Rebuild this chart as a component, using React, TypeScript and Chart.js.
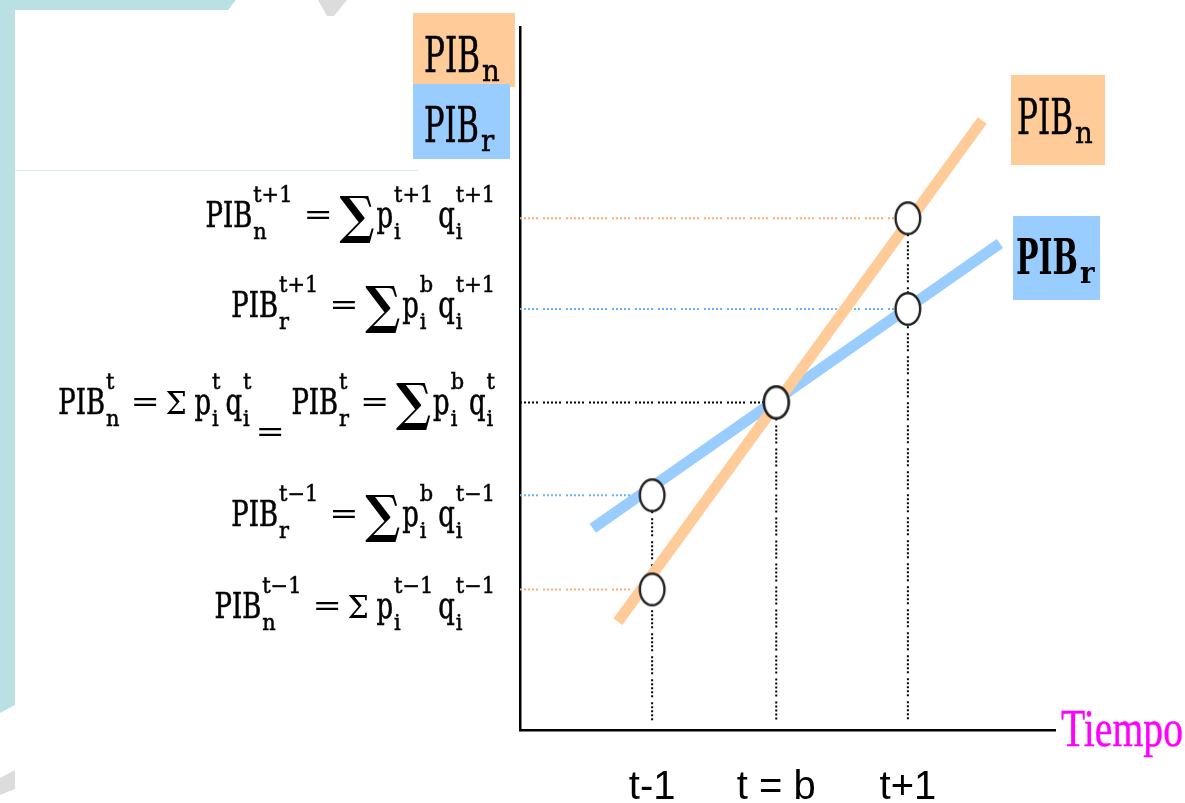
import React, { useEffect, useRef } from 'react';
import { Chart, registerables } from 'chart.js';

Chart.register(...registerables);

// ---------- data ----------
const periods = ['t-1', 't = b', 't+1'];
const periodX = [2.47, 4.79, 7.25];
const nominalGDP = [2.0, 4.66, 7.28];
const realGDP = [3.34, 4.66, 5.99];
const nominalLineX = [1.83, 8.64];
const nominalLineY = [1.54, 8.67];
const realLineX = [1.36, 8.97];
const realLineY = [2.87, 6.92];
const guideBottom = 0.12;
const axisTitle = 'Tiempo';
const seriesNames = ['PIB', 'PIB'];
const seriesSubs = ['n', 'r'];

type Tok = { s: string; sub?: string; sup?: string };
const formulaRows: Tok[][] = [
  [{ s: 'PIB', sub: 'n', sup: 't+1' }, { s: '=' }, { s: '∑' }, { s: 'p', sub: 'i', sup: 't+1' }, { s: 'q', sub: 'i', sup: 't+1' }],
  [{ s: 'PIB', sub: 'r', sup: 't+1' }, { s: '=' }, { s: '∑' }, { s: 'p', sub: 'i', sup: 'b' }, { s: 'q', sub: 'i', sup: 't+1' }],
  [
    { s: 'PIB', sub: 'n', sup: 't' }, { s: '=' }, { s: 'Σ' }, { s: 'p', sub: 'i', sup: 't' }, { s: 'q', sub: 'i', sup: 't' },
    { s: '=low' }, { s: 'PIB', sub: 'r', sup: 't' }, { s: '=' }, { s: '∑' }, { s: 'p', sub: 'i', sup: 'b' }, { s: 'q', sub: 'i', sup: 't' },
  ],
  [{ s: 'PIB', sub: 'r', sup: 't−1' }, { s: '=' }, { s: '∑' }, { s: 'p', sub: 'i', sup: 'b' }, { s: 'q', sub: 'i', sup: 't−1' }],
  [{ s: 'PIB', sub: 'n', sup: 't−1' }, { s: '=' }, { s: 'Σ' }, { s: 'p', sub: 'i', sup: 't−1' }, { s: 'q', sub: 'i', sup: 't−1' }],
];
// which value each formula row belongs to
const formulaValues = [nominalGDP[2], realGDP[2], nominalGDP[1], realGDP[0], nominalGDP[0]];

// ---------- styles ----------
const ORANGE = '#FFCC99';
const BLUE = '#99CCFF';
const ORANGE_DOT = '#FFAA70';
const BLUE_DOT = '#66B2FF';
const TEAL = '#BBE0E3';
const GRAY = '#DCDCDC';
const DOTS = [2, 2, 2, 2, 2, 2, 2, 2, 2, 5];
const BASE_FONT = '35px "DejaVu Serif", "Liberation Serif", serif';
const BASE_SX = 0.74;
const SCRIPT_FONT = '22px "DejaVu Serif", "Liberation Serif", serif';
const SCRIPT_SX = 0.95;
const ROW_BASELINE_OFFSET = [9, 8, 12, 31, 29];

function drawScaled(ctx: CanvasRenderingContext2D, s: string, x: number, y: number, font: string, sx: number, color = '#000', stroke = 0) {
  ctx.save();
  ctx.font = font;
  ctx.fillStyle = color;
  ctx.textAlign = 'left';
  ctx.textBaseline = 'alphabetic';
  ctx.translate(x, y);
  ctx.scale(sx, 1);
  ctx.fillText(s, 0, 0);
  if (stroke > 0) {
    ctx.strokeStyle = color;
    ctx.lineWidth = stroke;
    ctx.strokeText(s, 0, 0);
  }
  ctx.restore();
}

function drawWidth(ctx: CanvasRenderingContext2D, s: string, x: number, y: number, font: string, w: number, color = '#000', stroke = 0) {
  ctx.save();
  ctx.font = font;
  const mw = ctx.measureText(s).width;
  ctx.restore();
  drawScaled(ctx, s, x, y, font, w / mw, color, stroke);
}

function drawFit(ctx: CanvasRenderingContext2D, s: string, font: string, x: number, top: number, w: number, h: number) {
  ctx.save();
  ctx.font = font;
  ctx.textAlign = 'left';
  ctx.textBaseline = 'alphabetic';
  const m = ctx.measureText(s);
  const gw = m.actualBoundingBoxLeft + m.actualBoundingBoxRight;
  const gh = m.actualBoundingBoxAscent + m.actualBoundingBoxDescent;
  ctx.translate(x, top);
  ctx.scale(w / gw, h / gh);
  ctx.fillStyle = '#000';
  ctx.fillText(s, m.actualBoundingBoxLeft, m.actualBoundingBoxAscent);
  ctx.restore();
}

function tokWidth(ctx: CanvasRenderingContext2D, t: Tok) {
  if (t.s === '=') return 23;
  if (t.s === '=low') return 23;
  if (t.s === '∑') return 35;
  if (t.s === 'Σ') return 19;
  ctx.font = BASE_FONT;
  let w = ctx.measureText(t.s).width * BASE_SX;
  if (t.sub || t.sup) {
    ctx.font = SCRIPT_FONT;
    const a = t.sub ? ctx.measureText(t.sub).width : 0;
    const b = t.sup ? ctx.measureText(t.sup).width : 0;
    w += 1 + Math.max(a, b) * SCRIPT_SX;
  }
  return w;
}

function gapBefore(prev: Tok | null, cur: Tok) {
  if (!prev) return 0;
  if (cur.s === '=') return 14;
  if (cur.s === '∑') return 10;
  if (cur.s === 'Σ') return 10;
  if (cur.s === '=low') return 7;
  if (cur.s === 'p') return prev.s === 'Σ' ? 9 : 2;
  if (cur.s === 'q') return 5;
  if (cur.s === 'PIB') return 10;
  return 4;
}

function drawFormula(ctx: CanvasRenderingContext2D, toks: Tok[], rightX: number, base: number) {
  let total = 0;
  toks.forEach((t, i) => { total += gapBefore(i ? toks[i - 1] : null, t) + tokWidth(ctx, t); });
  let x = rightX - total;
  toks.forEach((t, i) => {
    x += gapBefore(i ? toks[i - 1] : null, t);
    const w = tokWidth(ctx, t);
    if (t.s === '=') drawFit(ctx, '=', BASE_FONT, x, base - 16, 23, 8);
    else if (t.s === '=low') drawFit(ctx, '=', BASE_FONT, x, base + 14, 23, 8);
    else if (t.s === '∑') drawFit(ctx, '∑', 'bold 60px "DejaVu Serif", "DejaVu Sans", serif', x, base - 32, 35, 48);
    else if (t.s === 'Σ') drawFit(ctx, 'Σ', BASE_FONT, x, base - 23, 19, 23);
    else {
      drawScaled(ctx, t.s, x, base, BASE_FONT, BASE_SX, '#000', 0.6);
      ctx.font = BASE_FONT;
      const bw = ctx.measureText(t.s).width * BASE_SX;
      if (t.sup) drawScaled(ctx, t.sup, x + bw + 1, base - 25, SCRIPT_FONT, SCRIPT_SX, '#000', 0.5);
      if (t.sub) drawScaled(ctx, t.sub, x + bw + 1, base + 12, SCRIPT_FONT, SCRIPT_SX, '#000', 0.5);
    }
    x += w;
  });
}

function labelBox(ctx: CanvasRenderingContext2D, bx: number, by: number, bw: number, bh: number, fill: string,
  name: string, sub: string, tx: number, base: number, nameW: number, bold: boolean) {
  ctx.fillStyle = fill;
  ctx.fillRect(bx, by, bw, bh);
  const f = (bold ? 'bold ' : '') + '48px "DejaVu Serif", "Liberation Serif", serif';
  drawWidth(ctx, name, tx, base, f, nameW, '#000', bold ? 0 : 0.6);
  const sf = (bold ? 'bold ' : '') + '30px "DejaVu Serif", "Liberation Serif", serif';
  drawScaled(ctx, sub, tx + nameW + 2, base + 9, sf, 0.92, '#000', bold ? 0 : 0.5);
}

const decorPlugin = {
  id: 'decor',
  beforeDraw(chart: any) {
    const ctx: CanvasRenderingContext2D = chart.ctx;
    ctx.save();
    ctx.fillStyle = '#fff';
    ctx.fillRect(0, 0, chart.width, chart.height);
    ctx.fillStyle = TEAL;
    ctx.beginPath();
    ctx.moveTo(0, 0); ctx.lineTo(236, 0); ctx.lineTo(228, 10); ctx.lineTo(15, 10);
    ctx.lineTo(15, 705); ctx.lineTo(0, 713); ctx.closePath(); ctx.fill();
    ctx.fillStyle = GRAY;
    ctx.beginPath();
    ctx.moveTo(318, 0); ctx.lineTo(347, 0); ctx.lineTo(334, 16); ctx.lineTo(327, 16); ctx.closePath(); ctx.fill();
    ctx.beginPath();
    ctx.moveTo(0, 778); ctx.lineTo(15, 770); ctx.lineTo(15, 789); ctx.lineTo(0, 795); ctx.closePath(); ctx.fill();
    ctx.strokeStyle = '#D6ECED';
    ctx.lineWidth = 1;
    ctx.beginPath(); ctx.moveTo(15, 170.5); ctx.lineTo(418, 170.5); ctx.stroke();
    ctx.restore();
  },
  afterDraw(chart: any) {
    const ctx: CanvasRenderingContext2D = chart.ctx;
    const ys = chart.scales.y;
    const area = chart.chartArea;
    ctx.save();
    formulaRows.forEach((row, i) => {
      const base = ys.getPixelForValue(formulaValues[i]) + ROW_BASELINE_OFFSET[i];
      drawFormula(ctx, row, area.left - 25, base);
    });
    // label boxes (top-left)
    labelBox(ctx, 413, 13, 102, 74, ORANGE, seriesNames[0], seriesSubs[0], 424, 72, 56, false);
    labelBox(ctx, 413, 84, 97, 75, BLUE, seriesNames[1], seriesSubs[1], 424, 142, 55, false);
    // label boxes at line ends
    labelBox(ctx, 1011, 75, 94, 90, ORANGE, seriesNames[0], seriesSubs[0], 1017, 134, 56, false);
    labelBox(ctx, 1013, 216, 87, 84, BLUE, seriesNames[1], seriesSubs[1], 1016, 274, 62, true);
    // axis title
    drawWidth(ctx, axisTitle, area.right + 6, area.bottom + 16, '52px "Liberation Serif", serif', 122, '#FF00FF', 0.4);
    ctx.restore();
  },
};

function makeEllipse() {
  const c = document.createElement('canvas');
  c.width = 30; c.height = 36;
  const g = c.getContext('2d')!;
  g.beginPath();
  g.ellipse(15, 18, 12.3, 15.8, 0, 0, Math.PI * 2);
  g.fillStyle = '#fff';
  g.fill();
  g.lineWidth = 2.4;
  g.strokeStyle = '#222';
  g.stroke();
  return c;
}

export default function App() {
  const ref = useRef<HTMLCanvasElement>(null);
  useEffect(() => {
    document.body.style.margin = '0';
    document.body.style.overflow = 'hidden';
    const ellipse = makeEllipse();
    const guides: any[] = [];
    const dotted = (data: any[], color: string) => ({
      data, borderColor: color, borderWidth: 2, borderDash: DOTS, pointRadius: 0, order: 3, fill: false,
    });
    periodX.forEach((x, i) => {
      const n = nominalGDP[i];
      const r = realGDP[i];
      if (n === r) guides.push(dotted([{ x: 0, y: n }, { x, y: n }], '#000'));
      else {
        guides.push(dotted([{ x: 0, y: n }, { x, y: n }], ORANGE_DOT));
        guides.push(dotted([{ x: 0, y: r }, { x, y: r }], BLUE_DOT));
      }
      guides.push(dotted([{ x, y: Math.max(n, r) }, { x, y: guideBottom }], '#000'));
    });
    const datasets: any[] = [
      {
        label: 'PIB nominal',
        data: nominalLineX.map((x, i) => ({ x, y: nominalLineY[i] })),
        borderColor: ORANGE, borderWidth: 11, borderCapStyle: 'butt', pointRadius: 0, order: 1,
      },
      {
        label: 'PIB real',
        data: realLineX.map((x, i) => ({ x, y: realLineY[i] })),
        borderColor: BLUE, borderWidth: 11, borderCapStyle: 'butt', pointRadius: 0, order: 2,
      },
      ...guides,
      {
        label: 'PIB nominal (puntos)',
        data: periodX.map((x, i) => ({ x, y: nominalGDP[i] })),
        showLine: false, pointStyle: ellipse, pointRadius: 13, order: 0,
      },
      {
        label: 'PIB real (puntos)',
        data: periodX.map((x, i) => ({ x, y: realGDP[i] })),
        showLine: false, pointStyle: ellipse, pointRadius: 13, order: 0,
      },
    ];
    const chart = new Chart(ref.current!, {
      type: 'line',
      data: { datasets },
      options: {
        animation: false,
        responsive: false,
        events: [],
        clip: false as any,
        layout: { padding: { left: 520, top: 27, right: 130, bottom: 0 } },
        plugins: { legend: { display: false }, tooltip: { enabled: false } },
        elements: { line: { tension: 0 } },
        scales: {
          x: {
            type: 'linear', min: 0, max: 10,
            grid: { display: false, drawTicks: false },
            border: { display: true, color: '#000', width: 2.5 },
            afterBuildTicks: (a: any) => { a.ticks = periodX.map((v) => ({ value: v })); },
            afterFit: (s: any) => { s.height = 73; },
            ticks: {
              autoSkip: false, maxRotation: 0, padding: 34, color: '#000',
              font: { family: '"Liberation Sans", Arial, sans-serif', size: 40 },
              callback: (_v: any, i: number) => periods[i],
            },
          },
          y: {
            type: 'linear', min: 0, max: 10,
            grid: { display: false, drawTicks: false },
            border: { display: true, color: '#000', width: 2.5 },
            ticks: { display: false },
            afterFit: (s: any) => { s.width = 0; },
          },
        },
      } as any,
      plugins: [decorPlugin],
    });
    return () => chart.destroy();
  }, []);
  return <canvas ref={ref} width={1185} height={803} style={{ display: 'block' }} />;
}
